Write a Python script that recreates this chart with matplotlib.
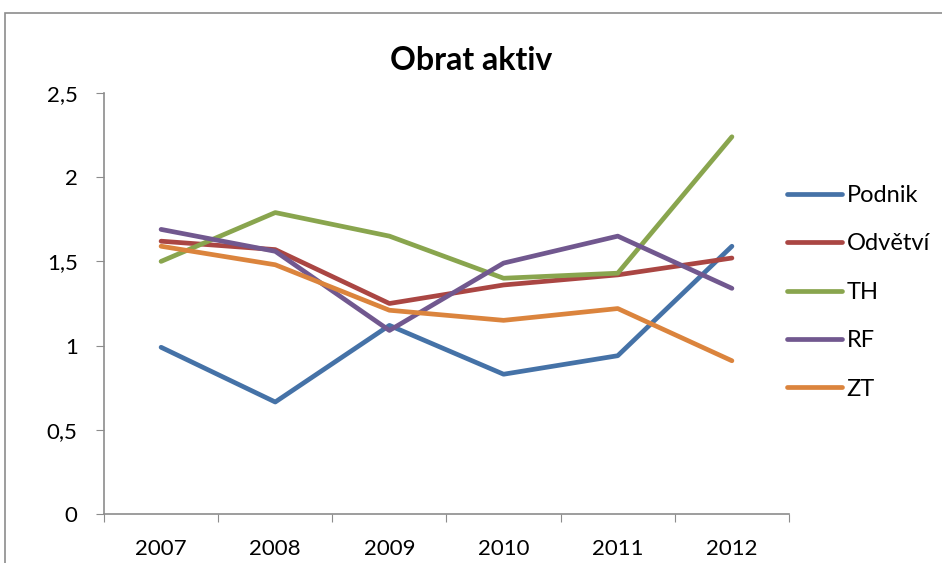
import matplotlib
matplotlib.use("Agg")
import matplotlib.pyplot as plt
from matplotlib.patches import Rectangle
from matplotlib.ticker import FuncFormatter

years = ["2007", "2008", "2009", "2010", "2011", "2012"]
podnik = [0.99, 0.665, 1.12, 0.83, 0.94, 1.59]
odvetvi = [1.62, 1.57, 1.25, 1.36, 1.42, 1.52]
th = [1.50, 1.79, 1.65, 1.40, 1.43, 2.24]
rf = [1.69, 1.56, 1.09, 1.49, 1.65, 1.34]
zt = [1.59, 1.48, 1.21, 1.15, 1.22, 0.91]

series = [("Podnik", podnik, "#4572a7"),
          ("Odvětví", odvetvi, "#aa4643"),
          ("TH", th, "#89a54e"),
          ("RF", rf, "#71588f"),
          ("ZT", zt, "#db843d")]

plt.rcParams["font.family"] = ["Lato", "DejaVu Sans"]

fig = plt.figure(figsize=(9.42, 5.63), dpi=100)
# outer chart frame (runs off the right and bottom edges)
fig.patches.append(Rectangle((5 / 942, -0.05), 1.2, (563 - 13) / 563 + 0.05,
                             transform=fig.transFigure, fill=False,
                             ec="#8c8c8c", lw=1.2))

ax = fig.add_axes([104 / 942, 49 / 563, 685 / 942, 421 / 563])
x = range(len(years))
for name, vals, col in series:
    ax.plot(x, vals, color=col, lw=3.4, label=name, solid_capstyle="round")

ax.set_xlim(-0.5, len(years) - 0.5)
ax.set_ylim(0, 2.5)
ax.set_yticks([0, 0.5, 1, 1.5, 2, 2.5])
ax.yaxis.set_major_formatter(FuncFormatter(lambda v, p: f"{v:g}".replace(".", ",")))
ax.set_xticks([i - 0.5 for i in range(len(years) + 1)])
ax.set_xticklabels([])
ax.set_xticks(list(x), minor=True)
ax.set_xticklabels(years, minor=True)
ax.tick_params(axis="x", which="major", direction="out", length=6, color="#8c8c8c")
ax.tick_params(axis="x", which="minor", length=0, pad=18, labelsize=16)
ax.tick_params(axis="y", direction="out", length=6, color="#8c8c8c", labelsize=16, pad=13)
for s in ["top", "right"]:
    ax.spines[s].set_visible(False)
for s in ["left", "bottom"]:
    ax.spines[s].set_color("#8c8c8c")
    ax.spines[s].set_linewidth(1.2)

fig.text(471 / 942, 1 - 60 / 563, "Obrat aktiv", ha="center", va="center",
         fontsize=23, fontweight="bold")

fig.legend(loc="upper left", bbox_to_anchor=(787 / 942, 1 - 185 / 563),
           frameon=False, fontsize=17, handlelength=2.33, handletextpad=0.2,
           labelspacing=1.16, borderpad=0, borderaxespad=0)

fig.savefig("out.png", dpi=100)
